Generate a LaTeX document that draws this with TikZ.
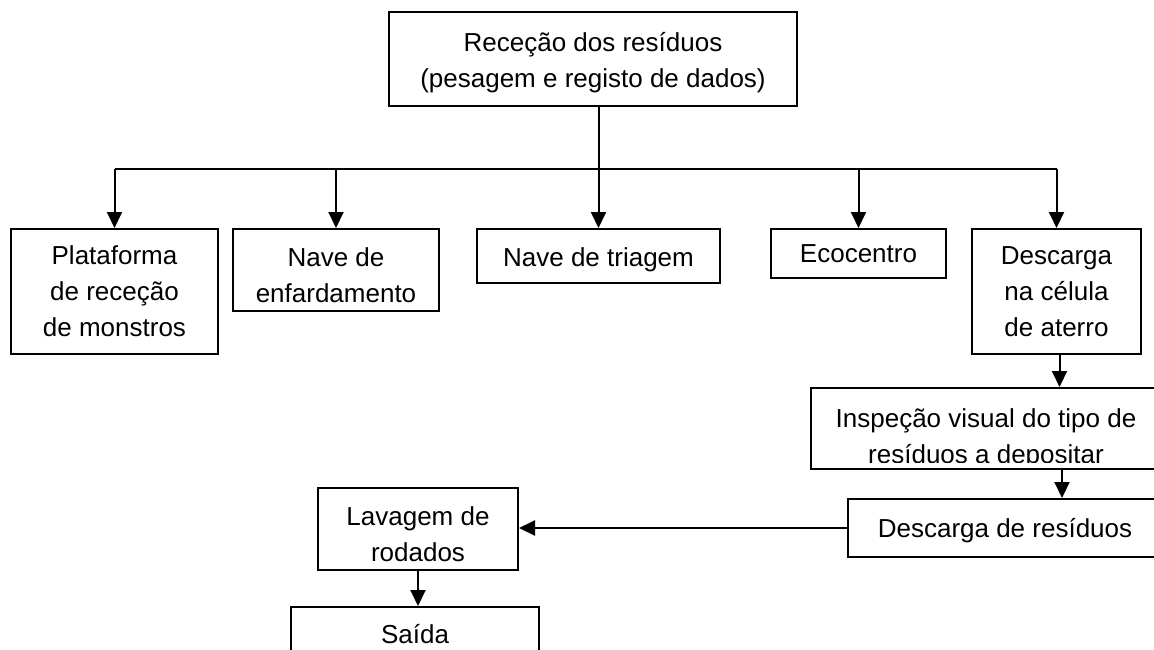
\documentclass[tikz,border=0pt]{standalone}
\usepackage{fontspec}
\setmainfont{Liberation Sans}
\usetikzlibrary{arrows.meta}
\begin{document}
\begin{tikzpicture}[x=1pt,y=1pt,
  box/.style={draw, line width=2pt, inner sep=0pt, align=center, font=\fontsize{26}{36}\selectfont},
  txt/.style={inner sep=0pt, align=center, font=\fontsize{26}{36}\selectfont},
  arr/.style={line width=2pt, -{Triangle[length=16pt,width=15pt]}},
  ln/.style={line width=2pt}]
\useasboundingbox (0,0) rectangle (1154,-649);
\clip (0,0) rectangle (1154,-649);
\node[box, minimum width=408, minimum height=94,
  label={[txt,yshift=-3.5pt]center:Receção dos resíduos\\(pesagem e registo de dados)}] (top) at (593,-59) {};
\node[box, minimum width=207, minimum height=125] (plat) at (114.5,-291.5) {Plataforma\\de receção\\de monstros};
\node[box, minimum width=206, minimum height=82,
  label={[txt,yshift=-5pt]center:Nave de\\enfardamento}] (enf) at (336,-270) {};
\node[box, minimum width=243, minimum height=54,
  label={[txt,yshift=-4pt]center:Nave de triagem}] (tri) at (598.5,-256) {};
\node[box, minimum width=175, minimum height=49] (eco) at (858.5,-253.5) {Ecocentro};
\node[box, minimum width=169, minimum height=125] (desc) at (1056.5,-291.5) {Descarga\\na célula\\de aterro};
\node[box, minimum width=350, minimum height=81] (insp) at (986,-428.5) {};
\begin{scope}
\clip (811,-388) rectangle (1161,-462);
\node[txt] (insptxt) at (986,-439) {Inspeção visual do tipo de\\resíduos a depositar};
\end{scope}
\node[box, minimum width=314, minimum height=58,
  label={[txt,yshift=-3pt]center:Descarga de resíduos}] (dres) at (1005,-528) {};
\node[box, minimum width=200, minimum height=82,
  label={[txt,yshift=-5pt]center:Lavagem de\\rodados}] (lav) at (418,-529) {};
\node[box, minimum width=248, minimum height=54] (said) at (415,-634) {Saída};
\coordinate (bus) at (0,-169);
\draw[ln] (plat.north |- bus) -- (desc.north |- bus);
\draw[arr] (top.south -| tri.north) -- (tri.north);
\draw[arr] (plat.north |- bus) -- (plat.north);
\draw[arr] (enf.north |- bus) -- (enf.north);
\draw[arr] (eco.north |- bus) -- (eco.north);
\draw[arr] (desc.north |- bus) -- (desc.north);
\draw[arr] ([xshift=3pt]desc.south) -- ([xshift=3pt]desc.south |- insp.north);
\draw[arr] ([xshift=5.5pt]desc.south |- insp.south) -- ([xshift=5.5pt]desc.south |- dres.north);
\draw[arr] (dres.west) -- (dres.west -| lav.east);
\draw[arr] (lav.south) -- (lav.south |- said.north);
\end{tikzpicture}
\end{document}
